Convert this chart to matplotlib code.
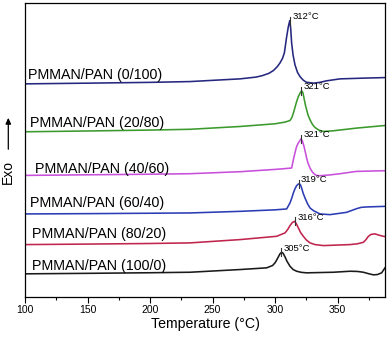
import matplotlib
matplotlib.use("Agg")
import matplotlib.pyplot as plt
from matplotlib.ticker import MultipleLocator, NullLocator

plt.rcParams['font.family'] = ['Liberation Sans', 'DejaVu Sans']

# ---- data (temperature in °C, heat flow in arbitrary units incl. vertical offset) ----
labels = ["PMMAN/PAN (0/100)", "PMMAN/PAN (20/80)", "PMMAN/PAN (40/60)",
          "PMMAN/PAN (60/40)", "PMMAN/PAN (80/20)", "PMMAN/PAN (100/0)"]
colors = ["#25287e", "#3b9a2c", "#c94fdc", "#2c3cb4", "#c0254e", "#1a1a1a"]
peak_temps = [312, 321, 321, 319, 316, 305]
peak_texts = ["312°C", "321°C", "321°C", "319°C", "316°C", "305°C"]

t_0_100 = [100, 150, 200, 232, 272, 285, 290, 295, 298.7, 302, 304, 306, 307.5, 309.3, 310.7, 311.8, 312.5, 313.3, 314.5, 316, 318, 320, 322.5, 325, 330.7, 336, 341, 352, 370, 388]
y_0_100 = [213.5, 214.2, 215.0, 215.8, 218.5, 220.3, 221.8, 224.0, 226.8, 231.0, 234.5, 239.0, 244.5, 260.5, 271.0, 276.8, 270.0, 254.5, 242.0, 232.5, 225.0, 220.8, 217.3, 215.2, 214.2, 215.0, 216.5, 218.5, 219.2, 219.8]

t_20_80 = [100, 150, 200, 232, 272, 300, 308, 312, 313.5, 314.7, 316, 317.3, 318.7, 320, 321.3, 322.3, 323.2, 324.2, 325.3, 326.5, 328, 330, 332, 335, 338.7, 346.7, 365.3, 388]
y_20_80 = [165.5, 166.3, 167.2, 168.0, 170.8, 173.5, 175.2, 176.8, 179.8, 184.2, 190.0, 195.8, 200.8, 204.2, 206.5, 204.8, 199.2, 193.0, 187.5, 182.0, 177.5, 172.8, 169.8, 167.2, 165.8, 166.5, 169.2, 171.8]

t_40_60 = [100, 150, 200, 232, 272, 300, 308, 313.3, 314.7, 316, 317.3, 318.5, 319.5, 320.8, 322, 323.2, 324.3, 325.3, 326.5, 328, 330, 332, 334, 336, 344, 352, 365, 388]
y_40_60 = [121.8, 122.4, 123.0, 123.5, 125.5, 127.8, 128.6, 129.2, 137.5, 144.5, 150.8, 154.0, 155.8, 158.5, 156.0, 150.8, 145.0, 139.2, 133.8, 129.2, 125.0, 122.5, 121.6, 121.5, 122.3, 123.5, 125.8, 126.5]

t_60_40 = [100, 150, 200, 232, 272, 300, 309.3, 312, 313.4, 314.7, 316, 317.3, 318.5, 319.5, 320.5, 321.3, 322.5, 324, 326, 328, 331, 336, 344, 357.3, 365.3, 369, 373.3, 388]
y_60_40 = [83.2, 83.5, 83.9, 84.2, 85.8, 87.3, 88.2, 94.2, 99.0, 104.2, 108.5, 111.5, 113.0, 113.5, 112.0, 109.2, 104.0, 99.2, 93.5, 89.2, 86.3, 83.2, 82.5, 84.8, 88.5, 89.8, 90.2, 90.8]

t_80_20 = [100, 150, 200, 232, 272, 301.3, 308, 310, 312, 313.8, 315.5, 316.8, 318.7, 320.5, 322.7, 325, 328, 332, 338.7, 360, 366, 370.7, 372.8, 374.7, 377, 380, 383, 386.7, 388]
y_80_20 = [52.5, 53.0, 53.6, 54.2, 57.5, 60.8, 64.2, 67.3, 71.5, 74.5, 75.8, 74.0, 69.2, 64.5, 60.8, 57.2, 54.2, 52.5, 51.5, 52.5, 53.3, 54.8, 57.5, 60.8, 62.8, 63.2, 62.0, 60.8, 60.5]

t_100_0 = [100, 150, 200, 232, 272, 293.3, 298, 300, 301.3, 302.7, 304, 305.3, 306.5, 308, 309.5, 312, 314.5, 317.3, 321, 325.3, 346.7, 360, 366, 370.7, 375, 378.7, 382, 385.3, 388]
y_100_0 = [23.2, 23.7, 24.3, 24.8, 27.5, 29.2, 31.5, 34.2, 37.0, 40.2, 43.3, 44.8, 43.8, 40.2, 36.0, 30.8, 27.5, 25.8, 24.7, 24.2, 24.8, 25.8, 25.6, 24.8, 23.3, 22.2, 22.5, 24.2, 29.2]

series_t = [t_0_100, t_20_80, t_40_60, t_60_40, t_80_20, t_100_0]
series_y = [y_0_100, y_20_80, y_40_60, y_60_40, y_80_20, y_100_0]

# ---- figure ----
fig = plt.figure(figsize=(3.92, 3.37), dpi=100)
ax = fig.add_axes([25 / 392, 40 / 337, 360 / 392, 294.5 / 337])

label_y = [222.5, 174.5, 128.5, 94.2, 63.5, 31.5]
label_x = [102.5, 104, 108, 104, 105.5, 105.5]

for i in range(len(labels)):
    t, y = series_t[i], series_y[i]
    ax.plot(t, y, color=colors[i], lw=1.15, solid_joinstyle='round')
    ax.text(label_x[i], label_y[i], labels[i], fontsize=10.3, va='center', ha='left')
    # peak marker + annotation
    pk = max(y)
    ax.plot([peak_temps[i], peak_temps[i]], [pk - 4, pk + 4], color='#333333', lw=0.8)
    ax.text(peak_temps[i] + 1.8, pk + 4, peak_texts[i], fontsize=6.8, va='center', ha='left')

ax.set_xlim(100, 388)
ax.set_ylim(0, 295)
ax.xaxis.set_major_locator(MultipleLocator(50))
ax.xaxis.set_minor_locator(MultipleLocator(25))
ax.yaxis.set_major_locator(NullLocator())
ax.tick_params(axis='x', which='major', direction='out', length=4, width=0.8, labelsize=7.5, pad=2)
ax.tick_params(axis='x', which='minor', direction='out', length=2, width=0.8)
for s in ax.spines.values():
    s.set_linewidth(0.9)
ax.set_xlabel("Temperature (°C)", fontsize=10.2, labelpad=1)

# Exo arrow and label
fig.text(8.3 / 392, 1 - 172 / 337, "Exo", rotation=90, fontsize=10, ha='center', va='center')
fig.patches.append(matplotlib.patches.FancyArrowPatch(
    (8.3 / 392, 1 - 152 / 337), (8.3 / 392, 1 - 115 / 337),
    transform=fig.transFigure, arrowstyle='-|>,head_length=3.5,head_width=1.6',
    color='black', lw=0.9, mutation_scale=1))

fig.savefig("out.png", dpi=100)
